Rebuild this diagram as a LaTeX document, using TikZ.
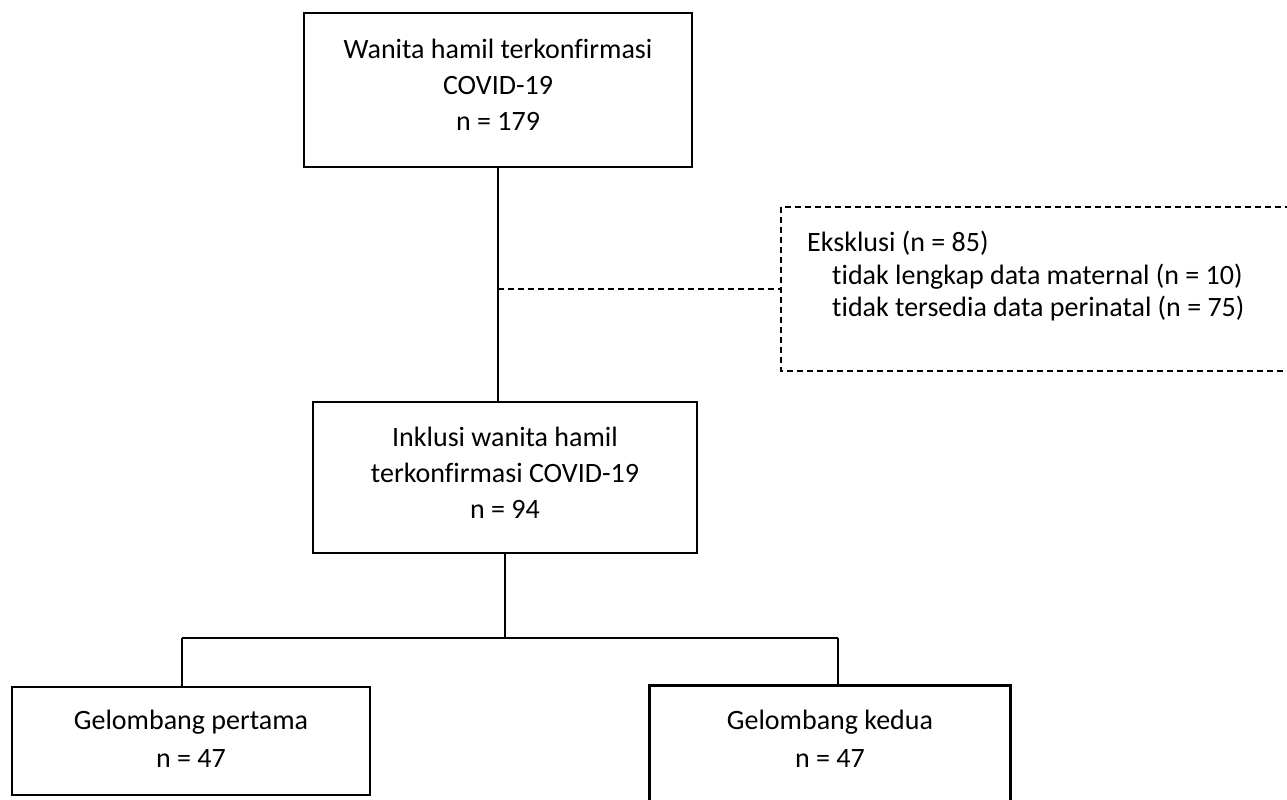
\documentclass[tikz,border=0pt]{standalone}
\usepackage{fontspec}
\setmainfont{Carlito}[Ligatures = NoCommon]
\usetikzlibrary{positioning}

\begin{document}
\begin{tikzpicture}
			[
				x = 1pt, y = -1pt,
				myblock/.style = {draw, rectangle, line width = 2.8pt, align = center, text depth = 10pt, font = \fontsize{28}{36}\selectfont},
				mywave/.style = {myblock, text depth = 4pt, font = \fontsize{28}{38}\selectfont, minimum width = 358pt, minimum height = 108pt},
				myexclusion/.style = {rectangle, align = left, font = \fontsize{28}{32.5}\selectfont},
				myline/.style = {line width = 2.8pt},
				mydashedline/.style = {line width = 1.3pt, dash pattern = on 6pt off 4pt}
			]
			%
			\path [use as bounding box, clip] (0,0) rectangle (1287,800);
			%
			\node (confirmed) [myblock, minimum width = 388pt, minimum height = 154pt] at (498,90) {Wanita hamil terkonfirmasi\\COVID-19\\n = 179};
			%
			\node (included) [myblock, minimum width = 384pt, minimum height = 151pt] at (505,477.5) {Inklusi wanita hamil\\terkonfirmasi COVID-19\\n = 94};
			\draw [myline] (confirmed.south) -- (confirmed.south |- included.north);
			%
			\node (exclusion) [myexclusion, anchor = north west, inner xsep = 26pt, inner ysep = 24pt, text depth = 30pt] at (781,207) {Eksklusi (n = 85)\\\hspace*{25pt}tidak lengkap data maternal (n = 10)\\\hspace*{25pt}tidak tersedia data perinatal (n = 75)};
			\draw [mydashedline] ([xshift = 60pt]exclusion.north east) -- (exclusion.north west) -- (exclusion.south west) -- ([xshift = 60pt]exclusion.south east);
			\coordinate (junction) at (confirmed.south |- exclusion.west);
			\draw [mydashedline] (junction) -- (exclusion.west);
			%
			\node (wave1) [mywave] at (191,741) {Gelombang pertama\\n = 47};
			\node (wave2) [mywave, draw = none] at (830,741) {Gelombang kedua\\n = 47};
			\draw [myline] ([yshift = -20pt]wave2.south west) |- (wave2.north east) -- ([yshift = -20pt]wave2.south east);
			%
			\coordinate (split) at (included.south |- 0,638);
			\coordinate (leftdrop) at (182,638);
			\coordinate (rightdrop) at (838,638);
			\draw [myline] (included.south) -- (split);
			\draw [myline] (leftdrop) -- (rightdrop);
			\draw [myline] (leftdrop) -- (leftdrop |- wave1.north);
			\draw [myline] (rightdrop) -- (rightdrop |- wave2.north);
			%
		\end{tikzpicture}
\end{document}
